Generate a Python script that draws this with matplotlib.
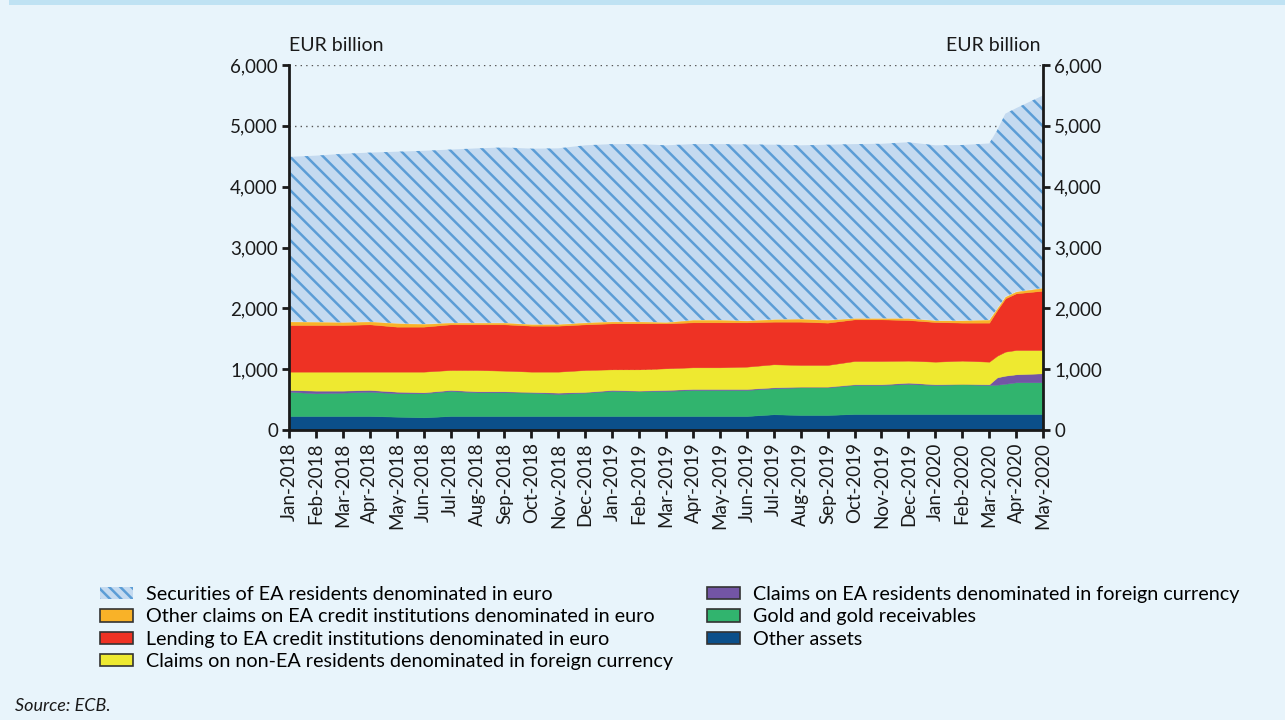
import numpy as np
import pandas as pd
import matplotlib.pyplot as plt
from matplotlib.patches import Patch, Rectangle
from matplotlib.ticker import StrMethodFormatter

plt.rcParams['font.family'] = ['Lato', 'DejaVu Sans']
plt.rcParams['hatch.linewidth'] = 1.8

# month index (0 = Jan-2018), extra points around the March 2020 jump
month = list(range(27)) + [26.3, 26.6, 27, 28]
month_labels = pd.date_range("2018-01-01", "2020-05-01", freq="MS").strftime("%b-%Y").tolist()

# EUR billion, bottom layer first
other_assets = [230, 230, 230, 230, 219, 208, 230, 230, 230, 230, 230, 230, 230, 230, 230, 230,
                230, 230, 258, 247, 247, 263, 263, 263, 263, 263, 263, 263, 263, 263, 263]
gold = [400, 373, 384, 400, 384, 395, 411, 389, 389, 384, 362, 384, 411, 411, 411, 428,
        428, 428, 427, 454, 454, 477, 477, 493, 477, 488, 477, 482, 497, 521, 521]
claims_ea_fc = [28, 44, 33, 28, 27, 16, 17, 17, 17, 11, 22, 11, 17, 6, 17, 16,
                16, 16, 16, 11, 11, 11, 11, 22, 11, 5, 11, 121, 133, 131, 148]
claims_non_ea_fc = [301, 312, 312, 301, 329, 340, 328, 350, 339, 334, 345, 361, 339, 350, 356, 356,
                    356, 367, 379, 357, 357, 383, 383, 362, 372, 384, 372, 356, 395, 400, 383]
lending = [767, 767, 767, 778, 740, 740, 751, 751, 762, 756, 756, 751, 757, 757, 740, 740,
           740, 729, 701, 712, 696, 685, 685, 668, 652, 625, 642, 751, 877, 932, 975]
other_claims = [55, 50, 44, 44, 55, 44, 25, 25, 25, 22, 22, 28, 27, 27, 16, 38,
                38, 27, 38, 44, 43, 17, 17, 28, 25, 35, 45, 27, 25, 27, 45]
securities = [2709, 2734, 2770, 2779, 2821, 2847, 2848, 2868, 2883, 2888, 2893, 2915, 2919, 2919, 2910, 2892,
              2892, 2898, 2871, 2855, 2882, 2864, 2869, 2894, 2880, 2885, 2900, 2930, 3010, 3016, 3165]

series = [
    ("Other assets", other_assets, "#0b4f8a"),
    ("Gold and gold receivables", gold, "#31b46e"),
    ("Claims on EA residents denominated in foreign currency", claims_ea_fc, "#7355a5"),
    ("Claims on non-EA residents denominated in foreign currency", claims_non_ea_fc, "#eee930"),
    ("Lending to EA credit institutions denominated in euro", lending, "#ee3224"),
    ("Other claims on EA credit institutions denominated in euro", other_claims, "#f9b228"),
    ("Securities of EA residents denominated in euro", securities, "#c4daf0"),
]

bg = "#e8f4fb"
fig = plt.figure(figsize=(12.85, 7.2), dpi=100, facecolor=bg)
ax = fig.add_axes([0.2249, 0.4028, 0.5868, 0.5069], facecolor=bg)

x = np.array(month, dtype=float)
base = np.zeros(len(x))
handles = {}
for name, vals, col in series:
    top = base + np.array(vals, dtype=float)
    if name.startswith("Securities"):
        ax.fill_between(x, base, top, facecolor=col, edgecolor="#5b9dd6", hatch="\\\\", linewidth=0, zorder=2)
        handles[name] = Patch(facecolor=col, edgecolor="#5b9dd6", hatch="\\\\\\", linewidth=0)
    else:
        ax.fill_between(x, base, top, facecolor=col, edgecolor=col, linewidth=0.3, zorder=2)
        handles[name] = Patch(facecolor=col, edgecolor="#333333", linewidth=1.2)
    base = top

ax.set_xlim(0, 28)
ax.set_ylim(0, 6000)
ax.set_yticks(np.arange(0, 6001, 1000))
ax.yaxis.set_major_formatter(StrMethodFormatter("{x:,.0f}"))
ax.set_xticks(range(len(month_labels)))
ax.set_xticklabels(month_labels, rotation=90)

ax.set_axisbelow(True)
ax.yaxis.grid(True, linestyle=(0, (1, 3)), color="#555555", linewidth=1)

for s in ["left", "right", "bottom"]:
    ax.spines[s].set_linewidth(2)
    ax.spines[s].set_color("#1a1a1a")
ax.spines["top"].set_visible(False)
ax.spines["bottom"].set_zorder(3)
ax.tick_params(axis="y", which="both", left=True, right=True, labelleft=True, labelright=True,
               length=5, width=2, labelsize=13.5, pad=3, colors="#1a1a1a")
ax.tick_params(axis="x", length=6, width=2, labelsize=13.5, pad=3, colors="#1a1a1a")

ax.text(0, 1.03, "EUR billion", transform=ax.transAxes, ha="left", va="bottom", fontsize=14, color="#1a1a1a")
ax.text(0.997, 1.03, "EUR billion", transform=ax.transAxes, ha="right", va="bottom", fontsize=14, color="#1a1a1a")

order = [
    "Securities of EA residents denominated in euro",
    "Other claims on EA credit institutions denominated in euro",
    "Lending to EA credit institutions denominated in euro",
    "Claims on non-EA residents denominated in foreign currency",
    "Claims on EA residents denominated in foreign currency",
    "Gold and gold receivables",
    "Other assets",
]
fig.legend([handles[k] for k in order], order, loc="upper left", bbox_to_anchor=(0.0778, 0.186),
           ncol=2, frameon=False, fontsize=14.2, handlelength=1.68, handleheight=0.6,
           handletextpad=0.66, labelspacing=0.27, columnspacing=1.7, borderaxespad=0, borderpad=0)

fig.text(0.012, 0.012, "Source: ECB.", style="italic", fontsize=13, color="#1a1a1a")
fig.patches.append(Rectangle((0.007, 0.993), 0.993, 0.007, transform=fig.transFigure,
                             facecolor="#bfe2f3", edgecolor="none"))

fig.savefig("out.png", dpi=100, facecolor=bg)
